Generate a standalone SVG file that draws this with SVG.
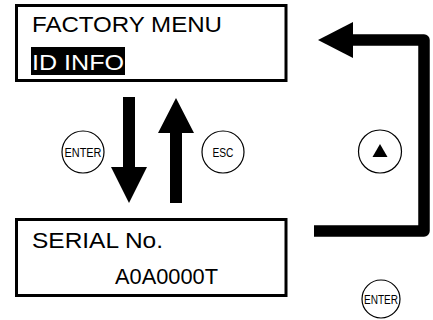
<svg xmlns="http://www.w3.org/2000/svg" width="433" height="320" viewBox="0 0 433 320">
<style>
.box{fill:#fff;stroke:#000;stroke-width:3}
.lcd{font-family:"Liberation Sans",Arial,sans-serif;font-size:22px;fill:#000}
.btn{fill:#fff;stroke:#000;stroke-width:1.2}
.bt{font-family:"Liberation Sans",Arial,sans-serif;font-size:12.5px;fill:#000;text-anchor:middle}
</style>
<rect width="433" height="320" fill="#fff"/>
<g id="factory-menu">
<rect class="box" x="16.5" y="5.5" width="269.5" height="75"/>
<text class="lcd" x="32" y="31.5" textLength="190" lengthAdjust="spacingAndGlyphs">FACTORY  MENU</text>
<rect x="31" y="47" width="94" height="28" fill="#000"/>
<text class="lcd" x="32" y="70" style="fill:#fff" textLength="92" lengthAdjust="spacingAndGlyphs">ID INFO</text>
</g>
<g id="serial-no">
<rect class="box" x="16.5" y="219.5" width="269.5" height="76"/>
<text class="lcd" x="32" y="247.5" textLength="131" lengthAdjust="spacingAndGlyphs">SERIAL  No.</text>
<text class="lcd" x="115" y="283.5" textLength="103" lengthAdjust="spacingAndGlyphs">A0A0000T</text>
</g>
<g id="connectors">
<polygon points="123,97 135,97 135,167 147,167 129,203 111,167 123,167" fill="#000"/>
<polygon points="176,98 194,133 182,133 182,203 170,203 170,133 158,133" fill="#000"/>
<path d="M314 231 H424 V40 H350" fill="none" stroke="#000" stroke-width="11.5" stroke-linejoin="round"/>
<polygon points="318,40 353,22 353,58" fill="#000"/>
</g>
<g id="btn-enter">
<circle class="btn" cx="83" cy="152" r="21"/>
<text class="bt" x="83" y="156.5" textLength="37" lengthAdjust="spacingAndGlyphs">ENTER</text>
</g>
<g id="btn-esc">
<circle class="btn" cx="223" cy="152" r="21"/>
<text class="bt" x="223" y="156.5" textLength="21" lengthAdjust="spacingAndGlyphs">ESC</text>
</g>
<g id="btn-up">
<circle class="btn" cx="380" cy="151.5" r="21.5"/>
<polygon points="380,144 387.5,157 372.5,157" fill="#000"/>
</g>
<g id="btn-enter-2">
<circle class="btn" cx="381" cy="299" r="19"/>
<text class="bt" x="381" y="303.5" textLength="34" lengthAdjust="spacingAndGlyphs">ENTER</text>
</g>
</svg>
